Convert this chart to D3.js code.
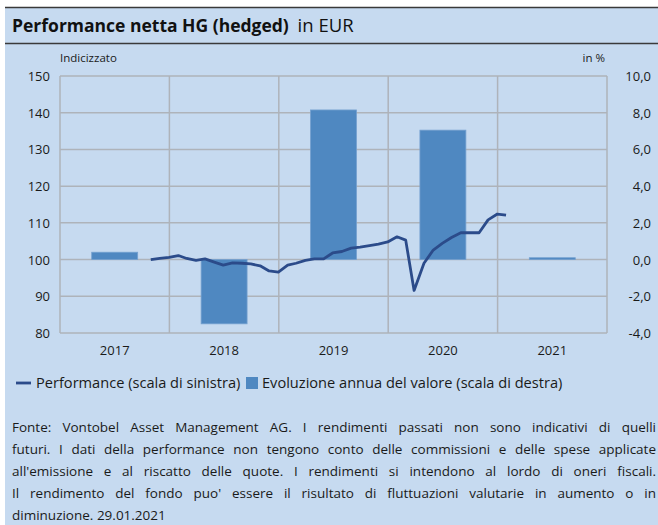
<!DOCTYPE html>
<html>
<head>
<meta charset="utf-8">
<script src="https://cdn.jsdelivr.net/npm/d3@7"></script>
<style>
  html, body { margin: 0; padding: 0; background: #fff; }
  body { width: 658px; height: 525px; overflow: hidden; position: relative; }
  #chart { position: absolute; left: 0; top: 0; }
  #note { position: absolute; left: 12px; top: 416px; width: 644px;
    font-family: "Open Sans", sans-serif; font-size: 13.5px; color: #1a1a1a; }
  #note div { height: 22px; line-height: 22px; white-space: nowrap;
    text-align: justify; text-align-last: justify; }
  #note div.last { text-align-last: left; }
</style>
</head>
<body>
<div id="chart"></div>
<div id="note"></div>
<script>
const years = ["2017", "2018", "2019", "2020", "2021"];
const annualValues = [0.4, -3.5, 8.15, 7.05, 0.1];

const perfDates = [
  "2017-10-31", "2017-11-30", "2017-12-31",
  "2018-01-31", "2018-02-28", "2018-03-31", "2018-04-30", "2018-05-31", "2018-06-30",
  "2018-07-31", "2018-08-31", "2018-09-30", "2018-10-31", "2018-11-30", "2018-12-31",
  "2019-01-31", "2019-02-28", "2019-03-31", "2019-04-30", "2019-05-31", "2019-06-30",
  "2019-07-31", "2019-08-31", "2019-09-30", "2019-10-31", "2019-11-30", "2019-12-31",
  "2020-01-31", "2020-02-29", "2020-03-28", "2020-04-30", "2020-05-31", "2020-06-30",
  "2020-07-31", "2020-08-31", "2020-09-30", "2020-10-31", "2020-11-30", "2020-12-31",
  "2021-01-29"
];
const perfValues = [
  100.0, 100.3, 100.6,
  101.1, 100.3, 99.8, 100.2, 99.3, 98.5,
  99.1, 99.0, 98.8, 98.3, 96.9, 96.6,
  98.5, 99.0, 99.8, 100.2, 100.2, 101.8,
  102.2, 103.1, 103.4, 103.8, 104.2, 104.8,
  106.2, 105.3, 91.6, 99.0, 102.6, 104.4,
  106.0, 107.3, 107.3, 107.3, 110.8, 112.4,
  112.1
];

const leftTicks = [80, 90, 100, 110, 120, 130, 140, 150];
const rightTicks = [-4, -2, 0, 2, 4, 6, 8, 10];

const noteLines = [
  "Fonte: Vontobel Asset Management AG. I rendimenti passati non sono indicativi di quelli",
  "futuri. I dati della performance non tengono conto delle commissioni e delle spese applicate",
  "all'emissione e al riscatto delle quote. I rendimenti si intendono al lordo di oneri fiscali.",
  "Il rendimento del fondo puo' essere il risultato di fluttuazioni valutarie in aumento o in",
  "diminuzione. 29.01.2021"
];

const theme = {
  bg: "#C6DAF0",
  bar: "#4F88C1",
  barEdge: "#74A0CF",
  line: "#2B4B8A",
  grid: "#AEB3BA",
  text: "#1a1a1a",
  rule: "#3a3a3a",
};
const font = '"Open Sans", sans-serif';

const width = 658, height = 525;
const margin = { left: 60, right: 51, top: 76, bottom: 192 };
const plotW = width - margin.left - margin.right;
const plotBottom = height - margin.bottom;

const svg = d3.select("#chart").append("svg")
  .attr("width", width).attr("height", height)
  .style("font-family", font);

// panel
svg.append("rect").attr("x", 5).attr("y", 7)
  .attr("width", width - 5).attr("height", height - 7).attr("fill", theme.bg);
svg.append("line").attr("x1", 5).attr("x2", width).attr("y1", 7.5).attr("y2", 7.5)
  .attr("stroke", theme.rule).attr("stroke-width", 1.5);
svg.append("line").attr("x1", 5).attr("x2", width).attr("y1", 43.5).attr("y2", 43.5)
  .attr("stroke", theme.rule).attr("stroke-width", 1.5);

const title = svg.append("text").attr("x", 12).attr("y", 32)
  .attr("font-size", 17.5).attr("fill", "#111");
title.append("tspan").attr("font-weight", "bold").text("Performance netta HG (hedged)");
title.append("tspan").attr("dx", 4).attr("font-size", 18.5).text(" in EUR");

svg.append("text").attr("x", 60).attr("y", 62).attr("font-size", 11.5)
  .attr("fill", theme.text).text("Indicizzato");
svg.append("text").attr("x", 605).attr("y", 62).attr("font-size", 11.5)
  .attr("text-anchor", "end").attr("fill", theme.text).text("in %");

// scales
const xBand = d3.scaleBand().domain(years)
  .range([margin.left, margin.left + plotW]).paddingInner(0).paddingOuter(0);
const xBar = d3.scaleBand().domain(years)
  .range([margin.left, margin.left + plotW]).paddingInner(0.58).paddingOuter(0.29);
const xTime = d3.scaleTime()
  .domain([new Date(2017, 0, 1), new Date(2022, 0, 1)])
  .range([margin.left, margin.left + plotW]);
const yLeft = d3.scaleLinear().domain([80, 150]).range([plotBottom, margin.top]);
const yRight = d3.scaleLinear().domain([-4, 10]).range([plotBottom, margin.top]);

// grid
const grid = svg.append("g").attr("stroke", theme.grid).attr("stroke-width", 1.5);
grid.selectAll(".h").data(leftTicks).enter().append("line")
  .attr("x1", margin.left).attr("x2", margin.left + plotW)
  .attr("y1", (d) => yLeft(d)).attr("y2", (d) => yLeft(d));
const vLines = years.map((y) => xBand(y)).concat([margin.left + plotW]);
grid.selectAll(".v").data(vLines).enter().append("line")
  .attr("x1", (d) => d).attr("x2", (d) => d)
  .attr("y1", margin.top).attr("y2", plotBottom);

// axes
const axisLeft = svg.append("g")
  .attr("transform", `translate(${margin.left - 10}, 0)`)
  .call(d3.axisLeft(yLeft).tickValues(leftTicks).tickSize(0).tickPadding(0));
const axisRight = svg.append("g")
  .attr("transform", `translate(651, 0)`)
  .call(d3.axisLeft(yRight).tickValues(rightTicks).tickSize(0).tickPadding(0)
    .tickFormat((d) => d3.format(".1f")(d).replace(".", ",").replace("−", "-")));
const axisBottom = svg.append("g")
  .attr("transform", `translate(0, ${plotBottom + 10})`)
  .call(d3.axisBottom(xBand).tickSize(0).tickPadding(0));
[axisLeft, axisRight, axisBottom].forEach((a) => {
  a.select(".domain").remove();
  a.selectAll("text").attr("font-size", 13).attr("font-family", font).attr("fill", theme.text);
});
axisBottom.selectAll("text").attr("dy", "0.9em");
axisLeft.selectAll("text").attr("dy", "0.35em");
axisRight.selectAll("text").attr("dy", "0.35em");

// bars
const barData = years.map((y, i) => ({ label: y, value: annualValues[i] }));
svg.append("g").selectAll("rect").data(barData).enter().append("rect")
  .attr("x", (d) => xBar(d.label))
  .attr("width", xBar.bandwidth())
  .attr("y", (d) => yRight(Math.max(0, d.value)))
  .attr("height", (d) => Math.abs(yRight(d.value) - yRight(0)))
  .attr("fill", theme.bar)
  .attr("stroke", theme.barEdge).attr("stroke-width", 0.8);

// line
const parse = d3.timeParse("%Y-%m-%d");
const lineData = perfDates.map((d, i) => ({ date: parse(d), value: perfValues[i] }));
svg.append("path").datum(lineData)
  .attr("fill", "none").attr("stroke", theme.line).attr("stroke-width", 2.8)
  .attr("stroke-linejoin", "round")
  .attr("d", d3.line().x((d) => xTime(d.date)).y((d) => yLeft(d.value)));

// legend
const lg = svg.append("g").attr("font-size", 14.6).attr("fill", theme.text);
lg.append("line").attr("x1", 16).attr("x2", 31).attr("y1", 383).attr("y2", 383)
  .attr("stroke", theme.line).attr("stroke-width", 2.8);
lg.append("text").attr("x", 36).attr("y", 388).text("Performance (scala di sinistra)");
lg.append("rect").attr("x", 246).attr("y", 377).attr("width", 12).attr("height", 12)
  .attr("fill", theme.bar);
lg.append("text").attr("x", 262).attr("y", 388).text("Evoluzione annua del valore (scala di destra)");

// footnote
d3.select("#note").selectAll("div").data(noteLines).enter().append("div")
  .attr("class", (d, i) => (i === noteLines.length - 1 ? "last" : null))
  .text((d) => d);
</script>
</body>
</html>
